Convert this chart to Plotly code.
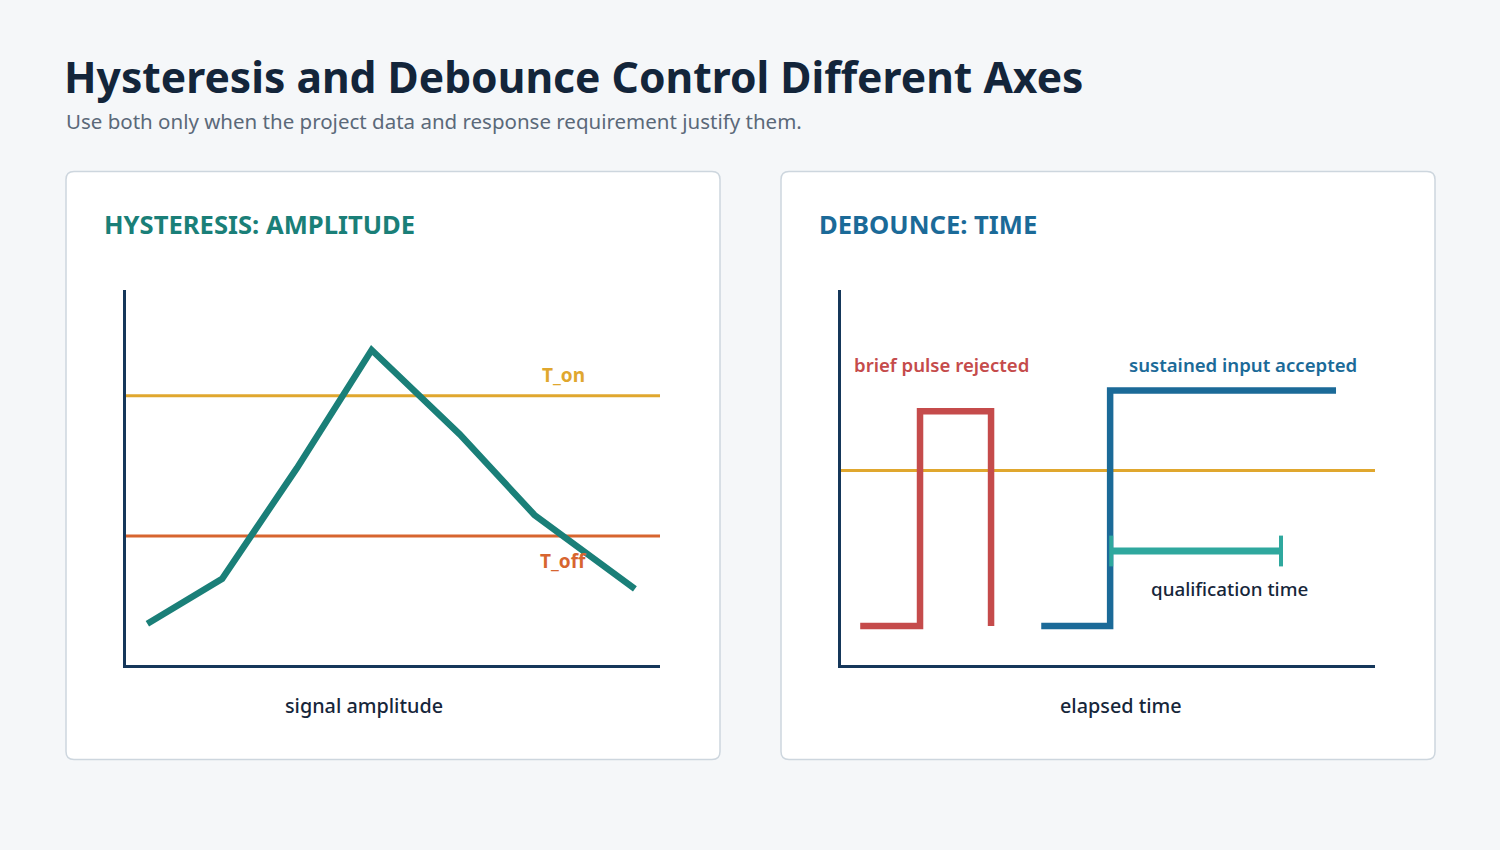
import plotly.graph_objects as go

W, H = 1500, 850

# ---- data (axis units 0..100) ----
signal_x = [4, 18, 32, 46, 62.5, 76.5, 95.3]
signal_y = [11, 23, 52.5, 84, 61.5, 40, 20.3]
t_on = 71.8
t_off = 34.4
threshold_x = [0, 100]

pulse_x = [3.6, 14.8, 14.8, 28.1, 28.1]
pulse_y = [10.4, 10.4, 67.7, 67.7, 10.4]
sustained_x = [37.5, 50.4, 50.4, 92.7]
sustained_y = [10.4, 10.4, 73.2, 73.2]
debounce_threshold = 51.9
qual_x = [50.6, 82.4]
qual_y = [30.4, 30.4]

FONT = "Noto Sans"
NAVY = "#15375a"
TEAL = "#1a7f78"
GOLD = "#e0a72e"
ORANGE = "#d7652f"
RED = "#c54b4b"
BLUE = "#1b6a98"
QUAL = "#2fa89e"
DARK = "#16263a"

fig = go.Figure()

# left panel
fig.add_trace(go.Scatter(x=threshold_x, y=[t_on, t_on], mode="lines",
                         line=dict(color=GOLD, width=3), xaxis="x", yaxis="y", hoverinfo="skip"))
fig.add_trace(go.Scatter(x=threshold_x, y=[t_off, t_off], mode="lines",
                         line=dict(color=ORANGE, width=3), xaxis="x", yaxis="y", hoverinfo="skip"))
fig.add_trace(go.Scatter(x=signal_x, y=signal_y, mode="lines",
                         line=dict(color=TEAL, width=6.5), xaxis="x", yaxis="y"))

# right panel
fig.add_trace(go.Scatter(x=threshold_x, y=[debounce_threshold] * 2, mode="lines",
                         line=dict(color=GOLD, width=3), xaxis="x2", yaxis="y2", hoverinfo="skip"))
fig.add_trace(go.Scatter(x=pulse_x, y=pulse_y, mode="lines",
                         line=dict(color=RED, width=6.5), xaxis="x2", yaxis="y2"))
fig.add_trace(go.Scatter(x=sustained_x, y=sustained_y, mode="lines",
                         line=dict(color=BLUE, width=6.5), xaxis="x2", yaxis="y2"))
fig.add_trace(go.Scatter(x=qual_x, y=qual_y, mode="lines+markers",
                         line=dict(color=QUAL, width=7),
                         marker=dict(symbol="line-ns", size=22, color=QUAL,
                                     line=dict(color=QUAL, width=4)),
                         xaxis="x2", yaxis="y2"))

def px_x(p):
    return p / W

def px_y(p):
    return 1 - p / H

def axis(domain):
    return dict(domain=domain, range=[0, 100], showgrid=False, zeroline=False,
                showticklabels=False, ticks="", showline=True, linecolor=NAVY,
                linewidth=3, fixedrange=True)

ydom = [px_y(665), px_y(290)]
fig.update_layout(
    width=W, height=H,
    margin=dict(l=0, r=0, t=0, b=0),
    paper_bgcolor="#f5f7f9",
    plot_bgcolor="rgba(0,0,0,0)",
    showlegend=False,
    xaxis=dict(**axis([px_x(126), px_x(660)]), anchor="y"),
    yaxis=dict(**axis(ydom), anchor="x"),
    xaxis2=dict(**axis([px_x(841), px_x(1375)]), anchor="y2"),
    yaxis2=dict(**axis(ydom), anchor="x2"),
    font=dict(family=FONT, color=DARK),
)

# panel backgrounds (rounded rects)
def rounded(x0, y0, x1, y1, r=8):
    rx, ry = r / W, r / H
    X0, X1 = px_x(x0), px_x(x1)
    Y0, Y1 = px_y(y0), px_y(y1)  # Y0 top, Y1 bottom
    return (f"M {X0+rx},{Y0} L {X1-rx},{Y0} Q {X1},{Y0} {X1},{Y0-ry} "
            f"L {X1},{Y1+ry} Q {X1},{Y1} {X1-rx},{Y1} "
            f"L {X0+rx},{Y1} Q {X0},{Y1} {X0},{Y1+ry} "
            f"L {X0},{Y0-ry} Q {X0},{Y0} {X0+rx},{Y0} Z")

for (a, b) in [(66, 720), (781, 1435)]:
    fig.add_shape(type="path", path=rounded(a, 171.5, b, 759.5), xref="paper", yref="paper",
                  fillcolor="white", line=dict(color="#cdd6de", width=1.5), layer="below")

def text(x, y, s, size, color, weight=400, anchor="left"):
    fig.add_annotation(x=px_x(x), y=px_y(y), xref="paper", yref="paper", text=s,
                       showarrow=False, xanchor=anchor, yanchor="middle",
                       font=dict(family=FONT, size=size, color=color, weight=weight))

text(62, 76, "Hysteresis and Debounce Control Different Axes", 42.6, "#13253a", 700)
text(64, 121, "Use both only when the project data and response requirement justify them.", 20.5, "#5b6979", 400)
text(102, 224.5, "HYSTERESIS: AMPLITUDE", 25.6, TEAL, 700)
text(817, 224.5, "DEBOUNCE: TIME", 25.6, BLUE, 700)
text(563, 374.5, "T_on", 19, GOLD, 700, "center")
text(563, 560.5, "T_off", 19, ORANGE, 700, "center")
text(364, 705, "signal amplitude", 19.8, DARK, 500, "center")
text(1121, 705, "elapsed time", 19.8, DARK, 500, "center")
text(852, 364, "brief pulse rejected", 18.6, RED, 600)
text(1243, 364, "sustained input accepted", 18.6, BLUE, 600, "center")
text(1229, 589, "qualification time", 18.8, DARK, 500, "center")

fig.write_html("out.html")
